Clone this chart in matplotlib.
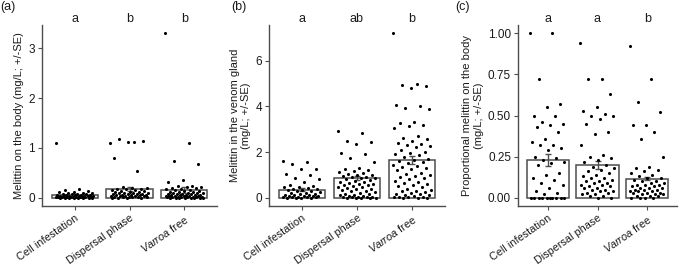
import matplotlib.pyplot as plt
import numpy as np

plt.rcParams['font.family'] = ['Liberation Sans', 'DejaVu Sans']
plt.rcParams['mathtext.fontset'] = 'custom'
plt.rcParams['mathtext.rm'] = 'Liberation Sans'
plt.rcParams['mathtext.it'] = 'Liberation Sans:italic'

groups = ['Cell infestation', 'Dispersal phase', r'$\it{Varroa}$ free']

# (a) melittin on the body
a_cell = [1.10, 0.17, 0.16, 0.14, 0.12, 0.11, 0.10, 0.09, 0.09, 0.08, 0.08, 0.07, 0.07,
          0.06, 0.06, 0.05, 0.05, 0.05, 0.04, 0.04, 0.04, 0.03, 0.03, 0.03, 0.03, 0.02,
          0.02, 0.02, 0.02, 0.02, 0.01, 0.01, 0.01, 0.01, 0.01, 0.01, 0.0, 0.0, 0.0, 0.0,
          0.0, 0.0, 0.0, 0.0]
a_disp = [1.10, 1.12, 1.17, 1.14, 1.11, 0.80, 0.54, 0.21, 0.20, 0.19, 0.18, 0.18, 0.17,
          0.16, 0.15, 0.14, 0.13, 0.12, 0.12, 0.11, 0.10, 0.10, 0.09, 0.09, 0.08, 0.08,
          0.07, 0.07, 0.06, 0.06, 0.05, 0.05, 0.05, 0.04, 0.04, 0.03, 0.03, 0.03, 0.02,
          0.02, 0.02, 0.01, 0.01, 0.01, 0.0, 0.0, 0.0, 0.0]
a_free = [3.30, 1.10, 0.73, 0.68, 0.35, 0.31, 0.24, 0.23, 0.22, 0.21, 0.20, 0.19, 0.18,
          0.17, 0.16, 0.15, 0.14, 0.13, 0.12, 0.12, 0.11, 0.10, 0.10, 0.09, 0.09, 0.08,
          0.08, 0.07, 0.07, 0.06, 0.06, 0.05, 0.05, 0.05, 0.04, 0.04, 0.04, 0.03, 0.03,
          0.03, 0.02, 0.02, 0.02, 0.02, 0.01, 0.01, 0.01, 0.01, 0.0, 0.0, 0.0, 0.0, 0.0,
          0.0, 0.0, 0.0]
a_mean = [0.06, 0.18, 0.15]
a_se = [0.02, 0.04, 0.06]
a_letters = ['a', 'b', 'b']

# (b) melittin in the venom gland
b_cell = [1.60, 1.55, 1.48, 1.28, 1.25, 1.05, 0.98, 0.85, 0.80, 0.70, 0.58, 0.52, 0.48,
          0.45, 0.42, 0.40, 0.38, 0.35, 0.32, 0.30, 0.28, 0.25, 0.22, 0.20, 0.18, 0.16,
          0.14, 0.12, 0.10, 0.09, 0.08, 0.07, 0.06, 0.05, 0.04, 0.03, 0.02, 0.02, 0.01,
          0.01, 0.0, 0.0]
b_disp = [2.90, 2.85, 2.50, 2.45, 2.35, 1.95, 1.90, 1.75, 1.55, 1.30, 1.25, 1.22, 1.18,
          1.12, 1.08, 1.05, 1.00, 0.98, 0.95, 0.92, 0.90, 0.88, 0.85, 0.80, 0.78, 0.75,
          0.70, 0.68, 0.65, 0.62, 0.60, 0.58, 0.55, 0.50, 0.48, 0.45, 0.42, 0.40, 0.38,
          0.35, 0.30, 0.28, 0.25, 0.20, 0.18, 0.15, 0.12, 0.10, 0.08, 0.06, 0.05, 0.04,
          0.03, 0.02, 0.02, 0.01, 0.01, 0.0, 0.0, 0.0]
b_free = [7.20, 5.00, 4.95, 4.90, 4.80, 4.05, 4.00, 3.95, 3.90, 3.30, 3.25, 3.20, 3.15,
          3.05, 2.70, 2.60, 2.55, 2.50, 2.40, 2.35, 2.30, 2.25, 2.20, 2.10, 2.00, 1.95,
          1.90, 1.85, 1.80, 1.70, 1.65, 1.60, 1.55, 1.50, 1.45, 1.40, 1.35, 1.30, 1.25,
          1.20, 1.10, 1.05, 1.00, 0.95, 0.90, 0.85, 0.80, 0.75, 0.70, 0.65, 0.60, 0.55,
          0.50, 0.45, 0.40, 0.35, 0.30, 0.28, 0.25, 0.20, 0.18, 0.15, 0.12, 0.10, 0.08,
          0.05, 0.04, 0.03, 0.02, 0.01, 0.0, 0.0]
b_mean = [0.35, 0.88, 1.65]
b_se = [0.06, 0.09, 0.18]
b_letters = ['a', 'ab', 'b']

# (c) proportional melittin on the body
c_cell = [1.00, 1.00, 0.72, 0.57, 0.55, 0.50, 0.50, 0.46, 0.45, 0.44, 0.43, 0.40, 0.36,
          0.34, 0.32, 0.32, 0.30, 0.29, 0.25, 0.24, 0.23, 0.22, 0.21, 0.20, 0.15, 0.14,
          0.12, 0.11, 0.09, 0.08, 0.06, 0.04, 0.03, 0.02, 0.0, 0.0, 0.0, 0.0, 0.0, 0.0,
          0.0, 0.0, 0.0, 0.0]
c_disp = [0.94, 0.72, 0.72, 0.63, 0.55, 0.53, 0.51, 0.50, 0.50, 0.48, 0.45, 0.40, 0.39,
          0.32, 0.26, 0.25, 0.24, 0.23, 0.22, 0.20, 0.19, 0.18, 0.17, 0.16, 0.15, 0.14,
          0.13, 0.12, 0.12, 0.11, 0.10, 0.10, 0.09, 0.09, 0.08, 0.08, 0.07, 0.07, 0.06,
          0.06, 0.05, 0.05, 0.04, 0.04, 0.03, 0.03, 0.02, 0.02, 0.01, 0.01, 0.0, 0.0]
c_free = [0.92, 0.72, 0.58, 0.52, 0.44, 0.44, 0.40, 0.36, 0.25, 0.19, 0.18, 0.17, 0.16,
          0.15, 0.14, 0.13, 0.12, 0.12, 0.11, 0.10, 0.10, 0.09, 0.09, 0.08, 0.08, 0.08,
          0.07, 0.07, 0.06, 0.06, 0.06, 0.05, 0.05, 0.05, 0.04, 0.04, 0.04, 0.03, 0.03,
          0.03, 0.02, 0.02, 0.02, 0.01, 0.01, 0.01, 0.0, 0.0, 0.0, 0.0]
c_mean = [0.23, 0.20, 0.115]
c_se = [0.035, 0.025, 0.01]
c_letters = ['a', 'a', 'b']

fig = plt.figure(figsize=(6.85, 2.65), dpi=100)


def panel(rect, points, means, ses, letters, ylabel, yticks, tag, tagx):
    ax = fig.add_axes(rect)
    x = np.arange(len(groups))
    ax.bar(x, means, width=0.85, color='white', edgecolor='#4d4d4d', linewidth=1.1, zorder=1)
    ax.errorbar(x, means, yerr=ses, fmt='none', ecolor='#4d4d4d', elinewidth=1,
                capsize=2.5, zorder=2)
    for i, vals in enumerate(points):
        k = np.arange(len(vals))
        dx = ((k * 0.618034) % 1 - 0.5) * 0.7
        ax.scatter(i + dx, vals, s=5, color='black', linewidths=0, zorder=3)
    top = max(max(p) for p in points)
    ax.set_ylim(-0.05 * top, 1.05 * top)
    ax.set_xlim(-0.6, 2.6)
    ax.set_yticks(yticks)
    ax.set_xticks(x)
    ax.set_xticklabels(groups, rotation=35, ha='right', va='top', rotation_mode='anchor')
    for side in ['top', 'right']:
        ax.spines[side].set_visible(False)
    for side in ['left', 'bottom']:
        ax.spines[side].set_color('#4d4d4d')
        ax.spines[side].set_linewidth(1)
    ax.tick_params(axis='y', labelsize=8.5)
    ax.tick_params(axis='x', labelsize=7.8)
    ax.tick_params(colors='#1a1a1a', length=3, width=0.8, pad=2)
    ax.tick_params(color='#4d4d4d')
    ax.set_ylabel(ylabel, fontsize=8, color='#1a1a1a', labelpad=3)
    for i, t in enumerate(letters):
        ax.text(i, 1.0, t, transform=ax.get_xaxis_transform(), ha='center',
                va='bottom', fontsize=9, color='#1a1a1a')
    fig.text(tagx, 0.995, tag, ha='left', va='top', fontsize=9, color='#1a1a1a')
    return ax


panel([42 / 685, 59 / 265, 175 / 685, 181 / 265], [a_cell, a_disp, a_free],
      a_mean, a_se, a_letters, 'Melittin on the body (mg/L; +/-SE)',
      [0, 1, 2, 3], '(a)', 0.0)
ax_b = panel([269 / 685, 59 / 265, 176 / 685, 181 / 265], [b_cell, b_disp, b_free],
             b_mean, b_se, b_letters, 'Melittin in the venom gland\n(mg/L; +/-SE)',
             [0, 2, 4, 6], '(b)', 231 / 685)
ax_c = panel([518 / 685, 59 / 265, 159 / 685, 181 / 265], [c_cell, c_disp, c_free],
             c_mean, c_se, c_letters, 'Proportional melittin on the body\n(mg/L; +/-SE)',
             [0, 0.25, 0.5, 0.75, 1.0], '(c)', 455 / 685)
ax_c.set_yticklabels(['0.00', '0.25', '0.50', '0.75', '1.00'])

fig.savefig('out.png', dpi=100)
